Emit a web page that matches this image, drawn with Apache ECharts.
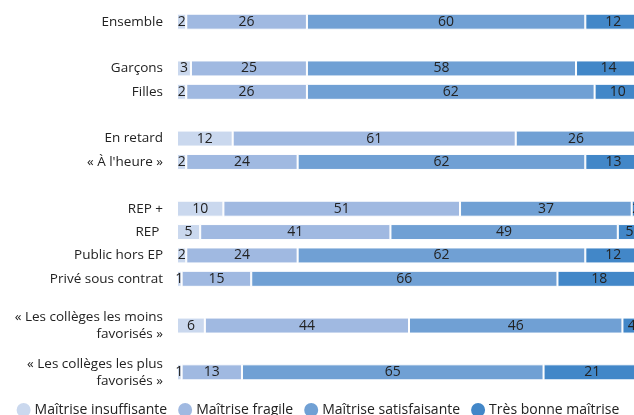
<!DOCTYPE html>
<html>
<head>
<meta charset="utf-8">
<script src="https://cdn.jsdelivr.net/npm/echarts@6/dist/echarts.min.js"></script>
<style>html,body{margin:0;padding:0;background:#fff}#c{width:634px;height:415px}</style>
</head>
<body>
<div id="c"></div>
<script>
var categories = ['Ensemble', '', 'Garçons', 'Filles', ' ', 'En retard', "« À l'heure »", '  ', 'REP +', 'REP ', 'Public hors EP', 'Privé sous contrat', '   ', '« Les collèges les moins\nfavorisés »', '    ', '« Les collèges les plus\nfavorisés »'];
var seriesNames = ['Maîtrise insuffisante', 'Maîtrise fragile', 'Maîtrise satisfaisante', 'Très bonne maîtrise'];
var insuffisante  = [2, '-', 3, 2, '-', 12, 2, '-', 10, 5, 2, 1, '-', 6, '-', 1];
var fragile       = [26, '-', 25, 26, '-', 61, 24, '-', 51, 41, 24, 15, '-', 44, '-', 13];
var satisfaisante = [60, '-', 58, 62, '-', 26, 62, '-', 37, 49, 62, 66, '-', 46, '-', 65];
var tresBonne     = [12, '-', 14, 10, '-', 1, 13, '-', 2, 5, 12, 18, '-', 4, '-', 21];
var colors = ['#cad8ee', '#a0b9e1', '#70a0d4', '#4287c8'];
var values = [insuffisante, fragile, satisfaisante, tresBonne];

var chart = echarts.init(document.getElementById('c'));
var series = seriesNames.map(function (n, i) {
  return {
    name: n, type: 'bar', stack: 'total', barWidth: 16,
    data: values[i],
    itemStyle: { color: colors[i], borderColor: '#fff', borderWidth: 1 },
    label: { show: true, position: 'inside', color: '#222', fontSize: 14, fontFamily: 'Open Sans' },
    emphasis: { disabled: true }
  };
});
chart.setOption({
  animation: false,
  color: colors,
  grid: { left: 177, width: 464, top: 10, height: 374, containLabel: false, outerBoundsMode: 'none' },
  xAxis: { type: 'value', min: 0, max: 100, show: false },
  yAxis: {
    type: 'category', data: categories, inverse: true,
    axisLine: { show: false }, axisTick: { show: false },
    axisLabel: { interval: 0, color: '#222', fontSize: 13.5, fontFamily: 'Open Sans', margin: 14, lineHeight: 17 }
  },
  legend: {
    top: 396, left: 'center', icon: 'circle', itemWidth: 16, itemHeight: 16, itemGap: 9,
    textStyle: { color: '#222', fontSize: 14, fontFamily: 'Open Sans', padding: [0, 0, 0, -2] },
    data: seriesNames
  },
  series: series
});
</script>
</body>
</html>
